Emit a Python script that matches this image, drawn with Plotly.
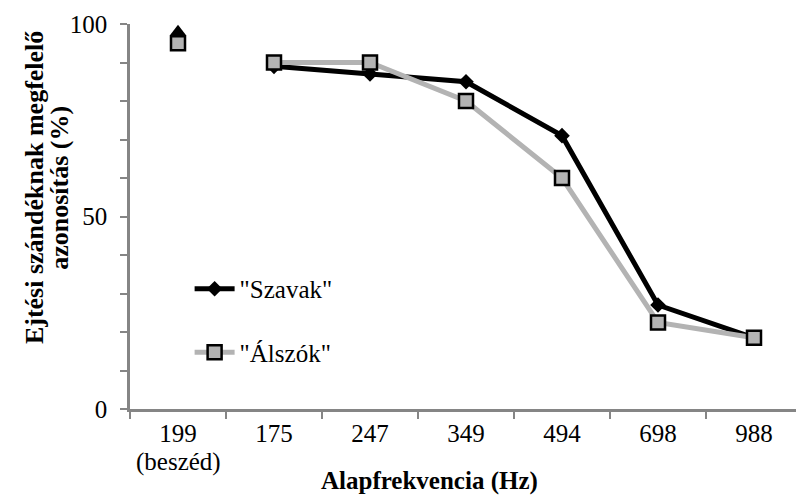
import plotly.graph_objects as go

# Fundamental frequency categories (Hz); the first one is natural speech
categories = ["199", "175", "247", "349", "494", "698", "988"]
speech_note = "(beszéd)"

# Correct identification of speaking intention (%)
speech_words = 98          # "Szavak", natural speech
speech_pseudo = 95         # "Álszók", natural speech
szavak = [89, 87, 85, 71, 27, 18.5]
alszok = [90, 90, 80, 60, 22.5, 18.5]

tone_cats = categories[1:]
serif = "Liberation Serif"
axis_grey = "#858585"
light_grey = "#b3b3b3"
fs = 25

fig = go.Figure()

# Sung / tone conditions
fig.add_trace(go.Scatter(
    x=tone_cats, y=szavak, name='"Szavak"', mode="lines+markers",
    line=dict(color="black", width=5),
    marker=dict(symbol="diamond", size=12, color="black"),
    legendgroup="a",
))
fig.add_trace(go.Scatter(
    x=tone_cats, y=alszok, name='"Álszók"', mode="lines+markers",
    line=dict(color=light_grey, width=5),
    marker=dict(symbol="square", size=14, color=light_grey,
                line=dict(color="black", width=2.5)),
    legendgroup="b",
))

# Natural speech reference points
fig.add_trace(go.Scatter(
    x=[categories[0]], y=[speech_words], mode="markers", showlegend=False,
    marker=dict(symbol="triangle-up", size=14, color="black"),
))
fig.add_trace(go.Scatter(
    x=[categories[0]], y=[speech_pseudo], mode="markers", showlegend=False,
    marker=dict(symbol="square", size=14, color=light_grey,
                line=dict(color="black", width=2.5)),
))

for tr in fig.data:
    tr.cliponaxis = False

yticks = list(range(0, 101, 10))
ylabels = [str(v) if v in (0, 50, 100) else "" for v in yticks]

fig.update_layout(
    width=796, height=496,
    margin=dict(l=130, r=0, t=24, b=87),
    paper_bgcolor="white", plot_bgcolor="white",
    font=dict(family=serif, size=fs, color="black"),
    showlegend=True,
    legend=dict(
        x=0.0895, y=0.23, xanchor="left", yanchor="middle",
        bgcolor="rgba(0,0,0,0)", font=dict(size=fs),
        traceorder="grouped", tracegroupgap=28,
        itemwidth=40,
    ),
    xaxis=dict(
        type="category", categoryorder="array", categoryarray=categories,
        range=[-0.5, 6.4375],
        showline=True, linecolor=axis_grey, linewidth=2.5,
        ticks="outside", ticklen=7, tickwidth=2, tickcolor=axis_grey,
        tickson="boundaries", showgrid=False, zeroline=False,
        tickfont=dict(size=fs),
    ),
    yaxis=dict(
        range=[0, 100],
        showline=True, linecolor=axis_grey, linewidth=2.5,
        tickmode="array", tickvals=yticks, ticktext=ylabels,
        ticks="outside", ticklen=7, tickwidth=2, tickcolor=axis_grey,
        ticklabelstandoff=8,
        showgrid=False, zeroline=False,
        tickfont=dict(size=fs),
    ),
    # overlay axis giving the ticks their inward half
    yaxis2=dict(
        overlaying="y", anchor="x", side="left", range=[0, 100],
        tickmode="array", tickvals=yticks, showticklabels=False,
        ticks="inside", ticklen=7, tickwidth=2, tickcolor=axis_grey,
        showline=False, showgrid=False, zeroline=False,
    ),
    annotations=[
        # second line under the first category label (index 0 on the category axis)
        dict(text=speech_note, xref="x", yref="paper",
             x=categories.index("199"), y=-0.138,
             xanchor="center", yanchor="middle",
             showarrow=False, font=dict(size=fs)),
        dict(text="<b>Alapfrekvencia (Hz)</b>", xref="paper", yref="paper",
             x=0.45, y=-0.187, xanchor="center", yanchor="middle",
             showarrow=False, font=dict(size=fs)),
        dict(text="<b>Ejtési szándéknak megfelelő</b>",
             xref="paper", yref="paper", x=-0.144, y=0.574,
             xanchor="center", yanchor="middle", textangle=-90,
             showarrow=False, font=dict(size=26)),
        dict(text="<b>azonosítás (%)</b>",
             xref="paper", yref="paper", x=-0.107, y=0.574,
             xanchor="center", yanchor="middle", textangle=-90,
             showarrow=False, font=dict(size=26)),
    ],
)

fig.write_html("out.html")
